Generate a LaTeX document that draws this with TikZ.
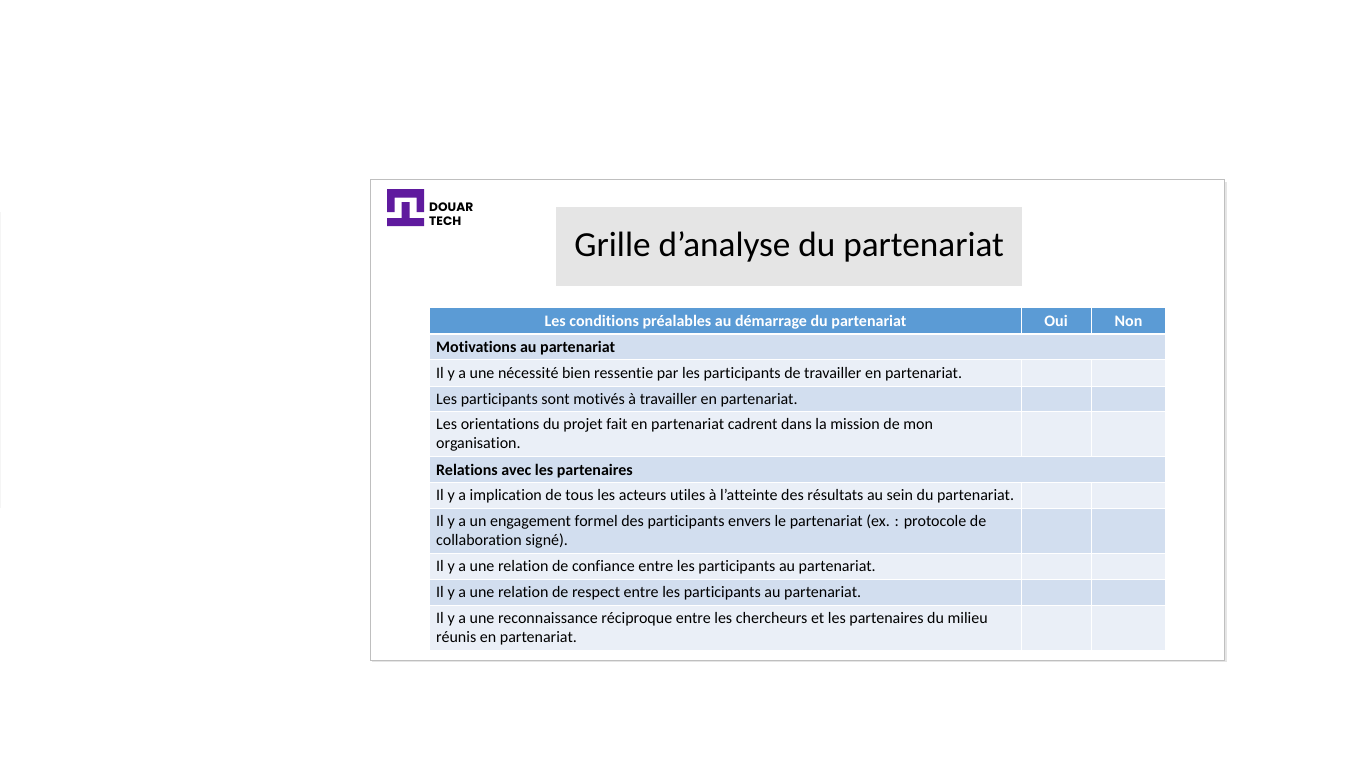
\documentclass[tikz,border=0pt]{standalone}
\usepackage{fontspec}
\setmainfont{Carlito}[RawFeature={-liga;-clig;-dlig}]
\newfontfamily\logofont{Poppins}
\definecolor{hdr}{HTML}{5B9BD5}
\definecolor{rowa}{HTML}{D2DEEF}
\definecolor{rowb}{HTML}{EAEFF7}
\definecolor{logo}{HTML}{5F1A9E}
\tikzset{
  x=1pt,y=-1pt,
  bodytext/.style={anchor=west,align=left,font=\fontsize{16}{19}\selectfont,text=black,inner sep=0pt},
  boldtext/.style={bodytext,font=\fontsize{16}{19}\selectfont\bfseries},
  headtext/.style={anchor=center,text=white,inner sep=0pt,font=\fontsize{16}{19}\selectfont\bfseries},
  logotext/.style={anchor=west,inner sep=0pt,font=\logofont\fontsize{12.2}{14}\selectfont\bfseries}
}
\newcommand{\tabrow}[5][1]{%
  \fill[#2] (430,#3) rectangle (1021,#4);
  \fill[#2] (1022,#3) rectangle (1091,#4);
  \fill[#2] (1092,#3) rectangle (1165,#4);
  \node[bodytext] at (436,{(#3+#4)/2+#1}) {#5};
}
\begin{document}
\begin{tikzpicture}
\useasboundingbox (0,0) rectangle (1366,768);
\fill[white] (0,0) rectangle (1366,768);
\fill[black!4] (0,212) rectangle (1,508);
% slide
\fill[black!10] (372,182) rectangle (1227,662);
\draw[draw=black!25,fill=white,line width=1pt] (370.5,179.8) rectangle (1224.7,660.2);
% logo
\fill[logo] (387,189) -- (424,189) -- (424,212) -- (416.5,212) -- (416.5,197.5) -- (394.5,197.5) -- (394.5,212) -- (387,212) -- cycle;
\fill[logo] (387,218) -- (401.5,218) -- (401.5,202) -- (409.5,202) -- (409.5,218) -- (424,218) -- (424,226) -- (387,226) -- cycle;
\node[logotext] (d) at (429,207.5) {DOUAR};
\node[logotext] (t) at (429,221) {TECH};
% title
\node[fill=black!10,minimum width=466pt,minimum height=79pt,inner sep=0pt,anchor=north west,font=\fontsize{35.2}{40}\selectfont] (title) at (556,207) {\raisebox{-3pt}{Grille d’analyse du partenariat}};
% table
\fill[hdr] (430,308) rectangle (1021,333);
\fill[hdr] (1022,308) rectangle (1091,333);
\fill[hdr] (1092,308) rectangle (1165,333);
\node[headtext,anchor=base] (h1) at (725.5,326) {Les conditions préalables au démarrage du partenariat};
\node[headtext,anchor=base] (h2) at (1056,326) {Oui};
\node[headtext,anchor=base] (h3) at (1128.5,326) {Non};
\fill[rowa] (430,335) rectangle (1165,359);
\node[boldtext,anchor=base west] (m) at (436,352) {Motivations au partenariat};
\tabrow{rowb}{360}{386}{Il y a une nécessité bien ressentie par les participants de travailler en partenariat.}
\tabrow{rowa}{387}{411}{Les participants sont motivés à travailler en partenariat.}
\tabrow{rowb}{412}{456}{Les orientations du projet fait en partenariat cadrent dans la mission de mon\\organisation.}
\fill[rowa] (430,457) rectangle (1165,482);
\node[boldtext,anchor=base west] (r) at (436,475) {Relations avec les partenaires};
\tabrow{rowb}{483}{508}{Il y a implication de tous les acteurs utiles à l’atteinte des résultats au sein du partenariat.}
\tabrow{rowa}{509}{553}{Il y a un engagement formel des participants envers le partenariat (ex. : protocole de\\collaboration signé).}
\tabrow[0.5]{rowb}{554}{579}{Il y a une relation de confiance entre les participants au partenariat.}
\tabrow[0.5]{rowa}{580}{605}{Il y a une relation de respect entre les participants au partenariat.}
\tabrow[0.5]{rowb}{606}{650}{Il y a une reconnaissance réciproque entre les chercheurs et les partenaires du milieu\\réunis en partenariat.}
\end{tikzpicture}
\end{document}
